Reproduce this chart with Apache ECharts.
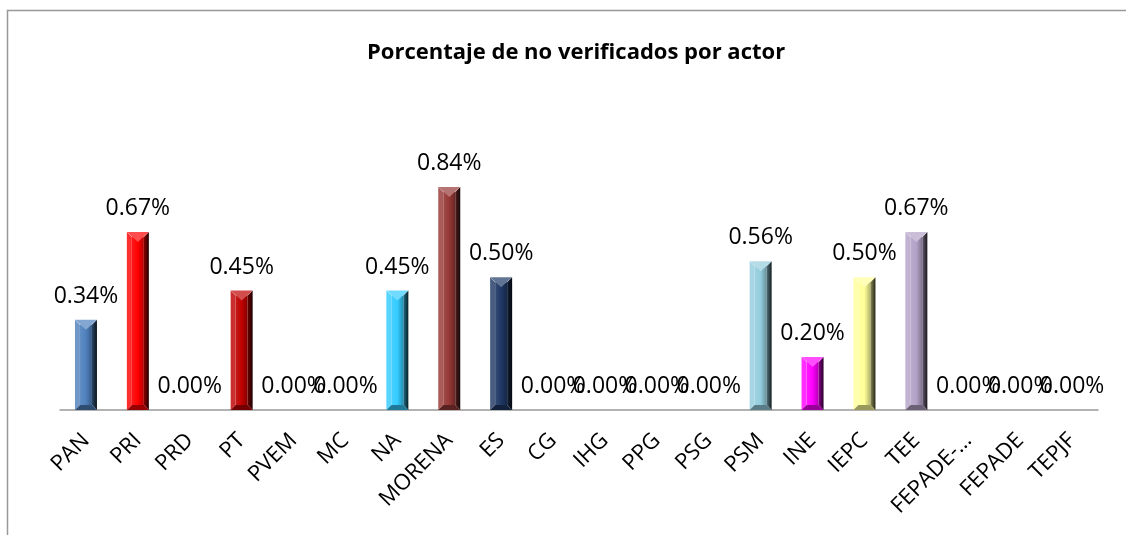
<!doctype html>
<html>
    <head>
        <meta charset="utf-8">
        <style>
            html, body { margin: 0; padding: 0; background: #fff; }
            #main { width: 1126px; height: 535px; }
        </style>
    </head>
    <body>
        <div id="main"></div>
        <script src="https://cdn.jsdelivr.net/npm/echarts@6/dist/echarts.min.js"></script>
        <script>
            var categories = ['PAN', 'PRI', 'PRD', 'PT', 'PVEM', 'MC', 'NA', 'MORENA', 'ES', 'CG',
                'IHG', 'PPG', 'PSG', 'PSM', 'INE', 'IEPC', 'TEE', 'FEPADE-\u2026', 'FEPADE', 'TEPJF'];
            var values = [0.34, 0.67, 0, 0.45, 0, 0, 0.45, 0.84, 0.50, 0,
                0, 0, 0, 0.56, 0.20, 0.50, 0.67, 0, 0, 0];
            var barColors = ['#4f81bd', '#ff0000', '#8064a2', '#c00000', '#9bbb59', '#f79646', '#33ccff', '#953735', '#1f3864', '#4bacc6',
                '#4f81bd', '#c0504d', '#9bbb59', '#93cddd', '#ff00ff', '#ffff99', '#b3a2c7', '#4f81bd', '#c0504d', '#9bbb59'];
            var titleText = 'Porcentaje de no verificados por actor';

            var BAR_W = 22;
            var BEVEL = 5;

            function shade(hex, f) {
                var n = parseInt(hex.slice(1), 16);
                var r = (n >> 16) & 255, g = (n >> 8) & 255, b = n & 255;
                function c(v) {
                    v = f < 0 ? v * (1 + f) : v + (255 - v) * f;
                    return Math.round(Math.max(0, Math.min(255, v)));
                }
                return 'rgb(' + c(r) + ',' + c(g) + ',' + c(b) + ')';
            }

            // excel style "angle" bevel: front face + 4 facets
            function renderBevelBar(params, api) {
                var i = api.value(0);
                var v = api.value(1);
                if (!v) return;
                var top = api.coord([i, v]);
                var base = api.coord([i, 0]);
                var x0 = top[0] - BAR_W / 2, x1 = top[0] + BAR_W / 2;
                var y0 = top[1], y1 = base[1];
                var d = BEVEL;
                var col = barColors[i];
                var faceGrad = new echarts.graphic.LinearGradient(0, 0, 1, 0, [
                    { offset: 0, color: shade(col, 0.1) },
                    { offset: 0.5, color: col },
                    { offset: 1, color: shade(col, -0.3) }
                ]);
                var rightGrad = new echarts.graphic.LinearGradient(0, 0, 1, 0, [
                    { offset: 0, color: shade(col, -0.45) },
                    { offset: 1, color: shade(col, -0.85) }
                ]);
                return {
                    type: 'group',
                    children: [{
                        type: 'rect',
                        shape: { x: x0 + d, y: y0 + d, width: BAR_W - 2 * d, height: Math.max(0, y1 - y0 - 2 * d) },
                        style: { fill: faceGrad }
                    }, {
                        type: 'polygon',
                        shape: { points: [[x0, y0], [x0 + d, y0 + d], [x0 + d, y1 - d], [x0, y1]] },
                        style: { fill: shade(col, 0.18) }
                    }, {
                        type: 'polygon',
                        shape: { points: [[x1, y0], [x1, y1], [x1 - d, y1 - d], [x1 - d, y0 + d]] },
                        style: { fill: rightGrad }
                    }, {
                        type: 'polygon',
                        shape: { points: [[x0, y0], [x1, y0], [top[0], y0 + BAR_W / 2 - 1]] },
                        style: { fill: shade(col, 0.3) }
                    }, {
                        type: 'polygon',
                        shape: { points: [[x0, y1], [x1, y1], [x1 - d, y1 - d], [x0 + d, y1 - d]] },
                        style: { fill: shade(col, -0.4) }
                    }]
                };
            }

            var chart = echarts.init(document.getElementById('main'));

            chart.setOption({
                animation: false,
                backgroundColor: '#fff',
                title: {
                    text: titleText,
                    left: 362,
                    top: 37,
                    textStyle: {
                        fontFamily: 'Open Sans',
                        fontWeight: 'bold',
                        fontSize: 22,
                        color: '#000'
                    }
                },
                graphic: [{
                    type: 'rect',
                    shape: { x: 7.5, y: 10.5, width: 1200, height: 600 },
                    style: { fill: 'none', stroke: '#999', lineWidth: 1.5 },
                    silent: true
                }],
                grid: {
                    left: 60,
                    right: 28,
                    top: 171,
                    bottom: 125
                },
                xAxis: {
                    type: 'category',
                    data: categories,
                    axisLine: { lineStyle: { color: '#999', width: 1.5 } },
                    axisTick: { show: false },
                    axisLabel: {
                        interval: 0,
                        rotate: 45,
                        margin: 27,
                        fontFamily: 'Open Sans',
                        fontSize: 22,
                        color: '#000'
                    }
                },
                yAxis: {
                    type: 'value',
                    min: 0,
                    max: 0.9,
                    show: false,
                    splitLine: { show: false }
                },
                series: [{
                    type: 'custom',
                    renderItem: renderBevelBar,
                    data: values.map(function (v, i) { return [i, v]; }),
                    z: 2
                }, {
                    // invisible bars, only here to place the value labels
                    type: 'bar',
                    barWidth: BAR_W,
                    data: values,
                    itemStyle: { color: 'rgba(0,0,0,0)' },
                    z: 3,
                    label: {
                        show: true,
                        position: 'top',
                        distance: 12,
                        fontFamily: 'Open Sans',
                        fontSize: 23,
                        color: '#000',
                        formatter: function (p) { return p.value.toFixed(2) + '%'; }
                    }
                }]
            });

            window.onresize = chart.resize;
        </script>
    </body>
</html>
